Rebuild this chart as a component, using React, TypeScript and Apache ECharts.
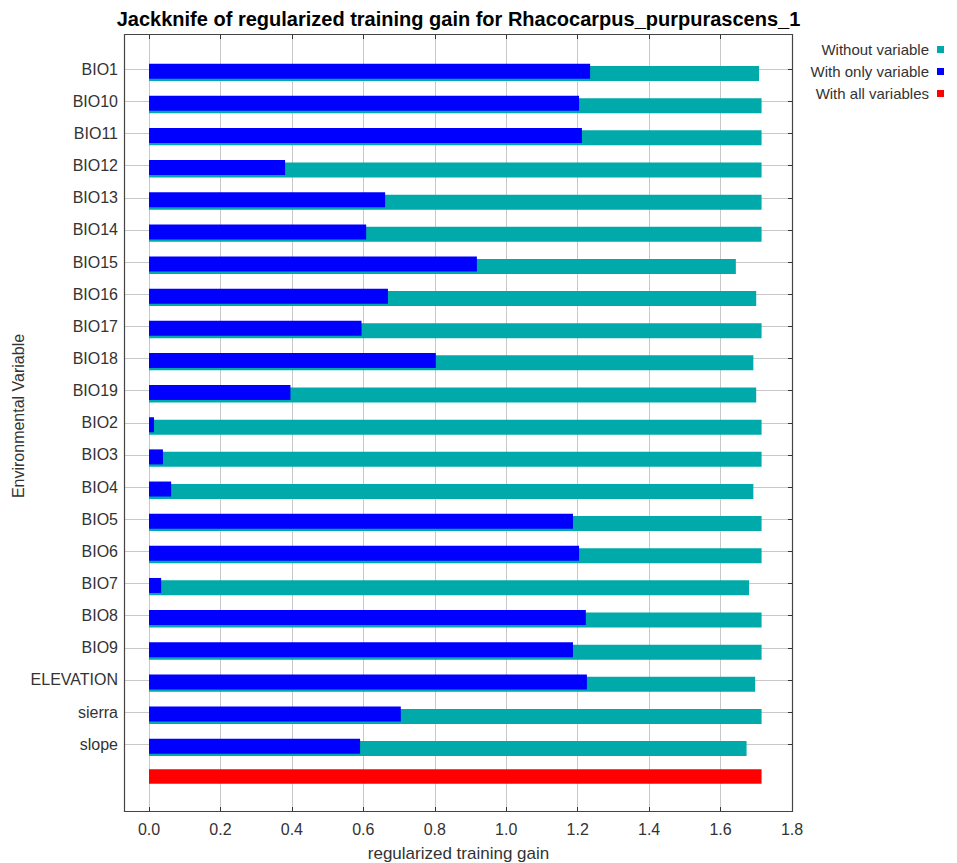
import { useEffect, useRef } from 'react';
import * as echarts from 'echarts';

const categories = [
  'BIO1', 'BIO10', 'BIO11', 'BIO12', 'BIO13', 'BIO14', 'BIO15', 'BIO16', 'BIO17', 'BIO18', 'BIO19',
  'BIO2', 'BIO3', 'BIO4', 'BIO5', 'BIO6', 'BIO7', 'BIO8', 'BIO9', 'ELEVATION', 'sierra', 'slope',
];
const withoutVariable = [
  1.708, 1.715, 1.715, 1.715, 1.715, 1.715, 1.643, 1.700, 1.715, 1.692, 1.700,
  1.715, 1.715, 1.692, 1.715, 1.715, 1.680, 1.715, 1.715, 1.697, 1.715, 1.673,
];
const withOnlyVariable = [
  1.235, 1.204, 1.212, 0.381, 0.661, 0.608, 0.918, 0.669, 0.595, 0.803, 0.396,
  0.014, 0.039, 0.062, 1.187, 1.204, 0.034, 1.223, 1.187, 1.226, 0.705, 0.591,
];
const withAllVariables = 1.715;

const seriesNames = ['Without variable', 'With only variable', 'With all variables'];
const titleText = 'Jackknife of regularized training gain for Rhacocarpus_purpurascens_1';
const xTitle = 'regularized training gain';
const yTitle = 'Environmental Variable';

const FONT = '"Liberation Sans", Arial, sans-serif';

export default function App() {
  const ref = useRef<HTMLDivElement>(null);
  useEffect(() => {
    if (!ref.current) return;
    const chart = echarts.init(ref.current, undefined, { renderer: 'svg' });
    const rows = [...categories, ''];
    const n = categories.length;
    const keep = (i: number) => i < n;

    const frame = { left: 124, top: 34, right: 793, bottom: 812 };
    const bandTop = 53.2;
    const bandH = 739.3;

    const option: any = {
      animation: false,
      backgroundColor: '#ffffff',
      textStyle: { fontFamily: FONT },
      legend: {
        orient: 'vertical',
        right: 8,
        top: 37,
        align: 'right',
        icon: 'rect',
        itemWidth: 7,
        itemHeight: 7,
        itemGap: 7,
        data: seriesNames,
        selectedMode: false,
        textStyle: { fontSize: 15, color: '#333', fontFamily: FONT, lineHeight: 15, padding: [0, 3, 0, 0] },
      },
      grid: [
        { left: frame.left, width: frame.right - frame.left, top: bandTop, height: bandH },
        { left: 149, width: 643, top: frame.top, height: frame.bottom - frame.top },
        { left: frame.left, width: frame.right - frame.left, top: bandTop + 3.1, height: bandH },
      ],
      xAxis: [
        { gridIndex: 0, type: 'value', min: -0.07, max: 1.803, show: false },
        { gridIndex: 2, type: 'value', min: -0.07, max: 1.803, show: false },
        {
          gridIndex: 1, type: 'value', min: 0, max: 1.8, interval: 0.2, position: 'bottom',
          axisLine: { show: false },
          axisTick: { show: true, inside: true, length: 5, lineStyle: { color: '#333' } },
          axisLabel: { fontSize: 16, color: '#333', margin: 9, fontFamily: FONT, formatter: (v: number) => v.toFixed(1) },
          splitLine: { show: true, lineStyle: { color: '#c8c8c8', width: 1 } },
        },
        {
          gridIndex: 1, type: 'value', min: 0, max: 1.8, interval: 0.2, position: 'top',
          axisLine: { show: false },
          axisTick: { show: true, inside: true, length: 5, lineStyle: { color: '#333' } },
          axisLabel: { show: false },
          splitLine: { show: false },
        },
      ],
      yAxis: [
        {
          gridIndex: 0, type: 'category', data: rows, inverse: true, position: 'left',
          axisLine: { show: false },
          axisTick: { show: true, inside: true, length: 5, alignWithLabel: true, interval: keep, lineStyle: { color: '#333' } },
          axisLabel: { fontSize: 16, color: '#333', margin: 6, interval: 0, fontFamily: FONT, lineHeight: 20, verticalAlign: 'middle', padding: [4, 0, 0, 0] },
          splitLine: { show: true, alignWithLabel: true, interval: keep, lineStyle: { color: '#c8c8c8', width: 1 } },
        },
        {
          gridIndex: 0, type: 'category', data: rows, inverse: true, position: 'right',
          axisLine: { show: false },
          axisTick: { show: true, inside: true, length: 5, alignWithLabel: true, interval: keep, lineStyle: { color: '#333' } },
          axisLabel: { show: false },
          splitLine: { show: false },
        },
        { gridIndex: 2, type: 'category', data: rows, inverse: true, show: false },
        { gridIndex: 1, type: 'value', show: false },
      ],
      series: [
        {
          name: seriesNames[1], type: 'bar', xAxisIndex: 1, yAxisIndex: 2,
          data: [...withOnlyVariable, null], barWidth: 15, barGap: '-84%', z: 4,
          itemStyle: { color: '#0000ff' },
        },
        {
          name: seriesNames[0], type: 'bar', xAxisIndex: 1, yAxisIndex: 2,
          data: [...withoutVariable, null], barWidth: 15, barGap: '-84%', z: 3,
          itemStyle: { color: '#00aaaa' },
        },
        {
          name: seriesNames[2], type: 'bar', xAxisIndex: 0, yAxisIndex: 0,
          data: [...categories.map(() => null), withAllVariables], barWidth: 14.5, z: 3,
          itemStyle: { color: '#ff0000' },
        },
      ],
      graphic: [
        {
          type: 'rect', z: 100, silent: true,
          shape: { x: frame.left + 0.5, y: frame.top + 0.5, width: frame.right - frame.left - 1, height: frame.bottom - frame.top - 1 },
          style: { fill: 'none', stroke: '#444', lineWidth: 1.2 },
        },
        {
          type: 'text', x: 458.5, y: 19, z: 100,
          style: { text: titleText, font: `bold 20px ${FONT}`, fill: '#000', align: 'center', verticalAlign: 'middle', textAlign: 'center', textVerticalAlign: 'middle' },
        },
        {
          type: 'text', x: 458.5, y: 853, z: 100,
          style: { text: xTitle, font: `17px ${FONT}`, fill: '#333', align: 'center', verticalAlign: 'middle', textAlign: 'center', textVerticalAlign: 'middle' },
        },
        {
          type: 'text', x: 18, y: 416, z: 100, rotation: Math.PI / 2,
          style: { text: yTitle, font: `16px ${FONT}`, fill: '#333', align: 'center', verticalAlign: 'middle', textAlign: 'center', textVerticalAlign: 'middle' },
        },
      ],
    };
    chart.setOption(option);
    return () => chart.dispose();
  }, []);
  return <div ref={ref} style={{ position: 'fixed', left: 0, top: 0, width: 957, height: 863 }} />;
}
